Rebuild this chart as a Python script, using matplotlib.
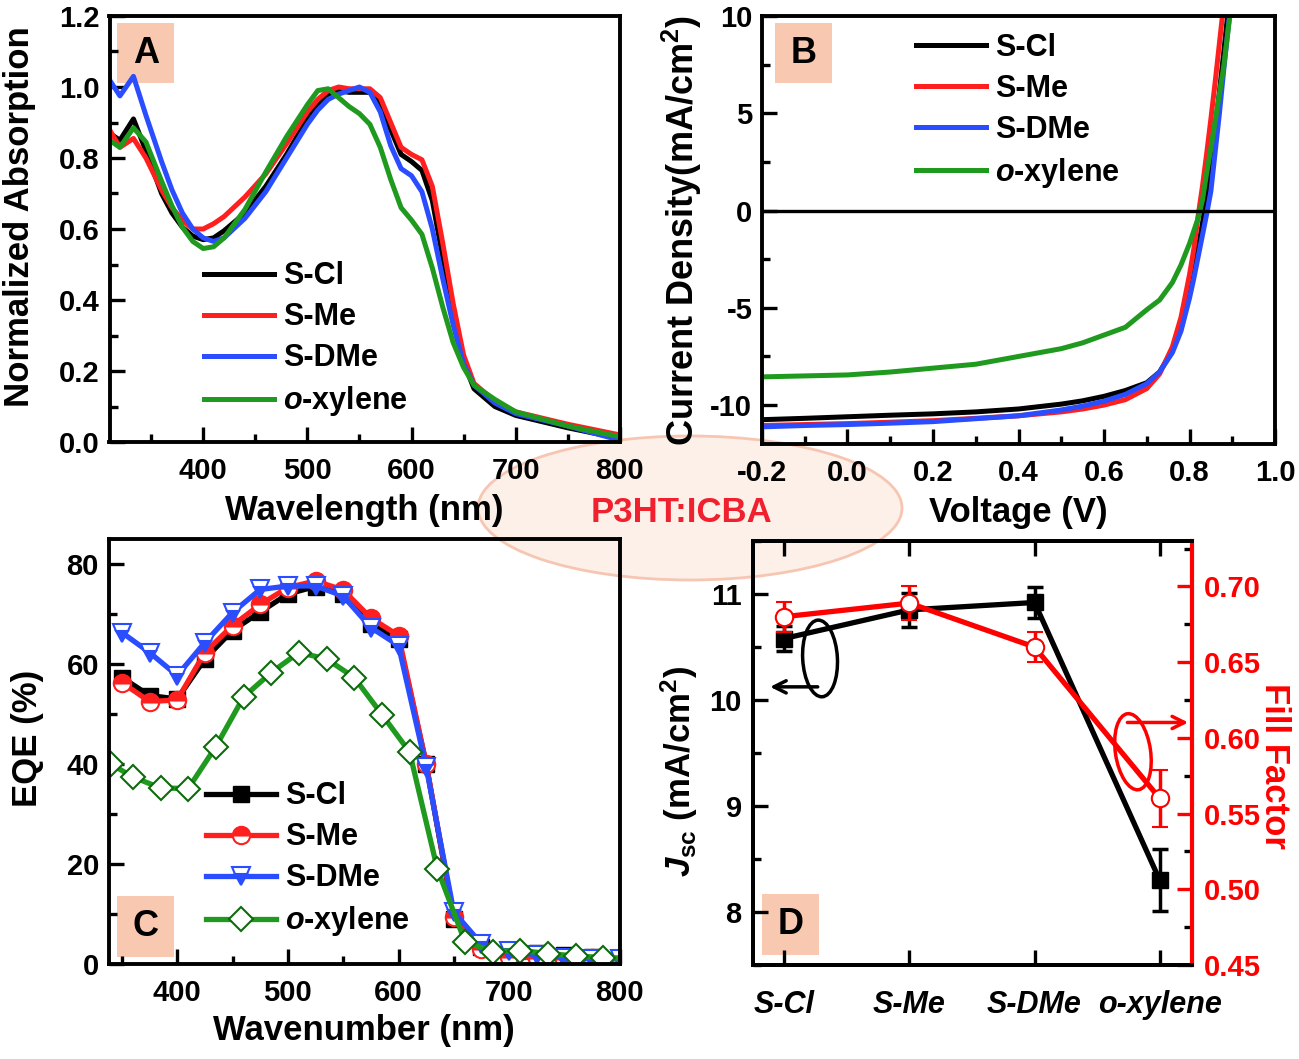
import numpy as np
import matplotlib
matplotlib.use("Agg")
import matplotlib.pyplot as plt
from matplotlib.patches import Ellipse, Rectangle
from matplotlib.ticker import MultipleLocator, FormatStrFormatter

plt.rcParams['font.family'] = ['Liberation Sans', 'DejaVu Sans']
plt.rcParams['font.weight'] = 'bold'
plt.rcParams['axes.labelweight'] = 'bold'
plt.rcParams['mathtext.fontset'] = 'custom'
plt.rcParams['mathtext.rm'] = 'Liberation Sans:bold'
plt.rcParams['mathtext.it'] = 'Liberation Sans:bold:italic'
plt.rcParams['mathtext.bf'] = 'Liberation Sans:bold'
plt.rcParams['axes.unicode_minus'] = False

# ---------------- data ----------------
labels = ['S-Cl', 'S-Me', 'S-DMe', '$o$-xylene']
colors = ['#000000', '#ff1f1f', '#2a4dff', '#1f9a1f']

# (A) normalized absorption
wl_abs = [310, 320, 333, 345, 360, 370, 380, 390, 400, 410, 420, 440, 460, 480,
          500, 510, 520, 530, 540, 550, 560, 570, 580, 590, 600, 610, 620, 630,
          640, 650, 660, 680, 700, 750, 800]
abs_scl = [0.87, 0.85, 0.91, 0.82, 0.70, 0.645, 0.605, 0.58, 0.57, 0.575, 0.595, 0.645, 0.72, 0.81,
           0.91, 0.95, 0.98, 0.99, 0.985, 0.985, 0.985, 0.955, 0.88, 0.81, 0.79, 0.765, 0.68, 0.52,
           0.36, 0.225, 0.15, 0.10, 0.075, 0.04, 0.01]
abs_sme = [0.88, 0.83, 0.855, 0.80, 0.71, 0.66, 0.625, 0.60, 0.60, 0.615, 0.635, 0.69, 0.755, 0.84,
           0.93, 0.965, 0.99, 1.0, 0.995, 0.995, 0.995, 0.97, 0.90, 0.83, 0.81, 0.795, 0.72, 0.56,
           0.39, 0.245, 0.165, 0.115, 0.085, 0.05, 0.02]
abs_sdme = [1.02, 0.975, 1.03, 0.92, 0.79, 0.71, 0.645, 0.60, 0.575, 0.565, 0.575, 0.63, 0.705, 0.80,
            0.895, 0.935, 0.965, 0.98, 0.99, 1.0, 0.985, 0.93, 0.835, 0.77, 0.75, 0.705, 0.60, 0.46,
            0.33, 0.22, 0.16, 0.11, 0.08, 0.045, 0.005]
abs_oxy = [0.85, 0.83, 0.885, 0.845, 0.735, 0.665, 0.605, 0.565, 0.545, 0.55, 0.575, 0.655, 0.76, 0.86,
           0.95, 0.99, 0.995, 0.97, 0.945, 0.925, 0.895, 0.83, 0.74, 0.66, 0.625, 0.585, 0.49, 0.38,
           0.28, 0.21, 0.16, 0.12, 0.085, 0.045, 0.015]

# (B) J-V curves
volt = [-0.2, -0.1, 0.0, 0.1, 0.2, 0.3, 0.4, 0.5, 0.55, 0.6, 0.65, 0.7, 0.73, 0.76,
        0.78, 0.80, 0.81, 0.82, 0.83, 0.84, 0.85, 0.86, 0.87, 0.88, 0.89, 0.90]
j_scl = [-10.75, -10.68, -10.6, -10.52, -10.45, -10.35, -10.2, -9.95, -9.78, -9.55, -9.25, -8.85, -8.3, -7.2,
         -6.1, -4.3, -3.2, -2.0, -0.7, 0.7, 2.4, 4.2, 6.1, 8.1, 10.2, 12.3]
j_sme = [-11.05, -11.0, -10.95, -10.88, -10.8, -10.68, -10.55, -10.35, -10.2, -10.0, -9.72, -9.15, -8.4, -7.0,
         -5.5, -3.3, -2.0, -0.3, 1.2, 2.9, 4.7, 6.6, 8.6, 10.6, 12.6, 14.6]
j_sdme = [-11.12, -11.05, -11.0, -10.93, -10.85, -10.7, -10.55, -10.25, -10.05, -9.8, -9.45, -8.9, -8.3, -7.3,
          -6.2, -4.5, -3.5, -2.4, -1.3, -0.2, 1.0, 3.0, 5.0, 7.2, 9.3, 11.4]
j_oxy = [-8.55, -8.5, -8.45, -8.3, -8.1, -7.9, -7.5, -7.1, -6.8, -6.4, -6.0, -5.1, -4.6, -3.7,
         -2.8, -1.7, -1.05, -0.4, 0.5, 1.9, 3.2, 4.6, 6.0, 7.4, 9.2, 11.0]

# (C) EQE
wl_eqe = [350, 375, 400, 425, 450, 475, 500, 525, 550, 575, 600, 625, 650, 675, 700, 725, 750, 775, 800]
eqe_scl = [57.3, 53.7, 53.0, 61.0, 66.7, 70.4, 74.0, 75.5, 74.0, 68.0, 65.0, 40.0, 9.0, 3.5, 2.8, 2.3, 1.8, 1.5, 1.3]
eqe_sme = [56.3, 52.5, 52.8, 62.3, 67.7, 71.9, 75.3, 76.6, 74.8, 69.2, 65.7, 40.1, 9.4, 3.0, 1.5, 1.2, 1.0, 1.2, 1.2]
eqe_sdme = [66.3, 62.3, 57.7, 64.3, 70.3, 74.9, 75.6, 75.6, 73.6, 67.3, 63.7, 39.4, 10.4, 4.0, 2.6, 1.8, 1.3, 1.0, 1.0]
wl_eqe_oxy = [340, 360, 385, 410, 435, 460, 485, 510, 535, 560, 585, 610, 635, 660, 685, 710, 735, 760, 785, 800]
eqe_oxy = [40.0, 37.4, 35.2, 35.1, 43.5, 53.4, 58.3, 62.3, 61.0, 57.3, 49.9, 42.4, 19.1, 4.5, 2.5, 2.7, 2.1, 1.6, 1.3, 1.2]

# (D) device parameters
solvents = ['S-Cl', 'S-Me', 'S-DMe', 'o-xylene']
jsc = [10.58, 10.85, 10.92, 8.30]
jsc_err = [0.12, 0.16, 0.15, 0.29]
ff = [0.680, 0.689, 0.660, 0.560]
ff_err = [0.010, 0.011, 0.010, 0.019]

# ---------------- figure ----------------
W, H = 1299, 1059
fig = plt.figure(figsize=(W / 100, H / 100), dpi=100)


def add_ax(l, t, r, b):
    return fig.add_axes([l / W, 1 - b / H, (r - l) / W, (b - t) / H])


def style(ax, lw=2.8):
    ax.set_facecolor('none')
    for s in ax.spines.values():
        s.set_linewidth(lw)
    ax.tick_params(which='both', direction='in', width=2.4, labelsize=21, pad=7)
    ax.tick_params(axis='x', pad=11)
    ax.tick_params(which='major', length=11)
    ax.tick_params(which='minor', length=6)


def panel_tag(ax, x0, y0, x1, y1, letter):
    ax.add_patch(Rectangle((x0, y0), x1 - x0, y1 - y0, transform=ax.transAxes,
                           facecolor='#f9c8b0', edgecolor='none', zorder=0.5, clip_on=False))
    ax.text((x0 + x1) / 2, (y0 + y1) / 2, letter, transform=ax.transAxes,
            ha='center', va='center', fontsize=26, fontweight='bold', zorder=5)


leg_kw = dict(loc='upper left', frameon=False, fontsize=22, borderaxespad=0, borderpad=0,
              handlelength=2.3, handletextpad=0.3, labelspacing=0.36)

# central ellipse + label
fig.add_artist(Ellipse((690 / W, 1 - 508 / H), 424 / W, 144 / H, transform=fig.transFigure,
                       facecolor='#fdf0e8', edgecolor='#f6c6b2', lw=2, zorder=-1))
fig.text(681 / W, 1 - 512 / H, 'P3HT:ICBA', color='#f0202e', fontsize=25,
         fontweight='bold', ha='center', va='center')

# ---- A ----
axA = add_ax(109.5, 16, 619.8, 442)
style(axA)
for y, c, lab in zip([abs_scl, abs_sme, abs_sdme, abs_oxy], colors, labels):
    axA.plot(wl_abs, y, color=c, lw=3.6, label=lab)
axA.set_xlim(310, 800)
axA.set_ylim(0, 1.2)
axA.xaxis.set_minor_locator(MultipleLocator(50))
axA.yaxis.set_major_locator(MultipleLocator(0.2))
axA.yaxis.set_minor_locator(MultipleLocator(0.1))
axA.yaxis.set_major_formatter(FormatStrFormatter('%.1f'))
axA.set_xticks([400, 500, 600, 700, 800])
axA.set_xlabel('Wavelength (nm)', fontsize=25)
axA.set_ylabel('Normalized Absorption', fontsize=25)
axA.xaxis.set_label_coords(0.5, -0.122)
axA.yaxis.set_label_coords(-0.145, 0.53)
axA.legend(bbox_to_anchor=(0.185, 0.424), **leg_kw)
panel_tag(axA, 0.0154, 0.842, 0.127, 0.984, 'A')

# ---- B ----
axB = add_ax(762, 16, 1275, 444)
style(axB)
for y, c, lab in zip([j_scl, j_sme, j_sdme, j_oxy], colors, labels):
    axB.plot(volt, y, color=c, lw=3.6, label=lab)
axB.axhline(0, color='k', lw=2.4)
axB.set_xlim(-0.2, 1.0)
axB.set_ylim(-12, 10)
axB.xaxis.set_major_locator(MultipleLocator(0.2))
axB.xaxis.set_minor_locator(MultipleLocator(0.1))
axB.xaxis.set_major_formatter(FormatStrFormatter('%.1f'))
axB.yaxis.set_major_locator(MultipleLocator(5))
axB.yaxis.set_minor_locator(MultipleLocator(2.5))
axB.set_xlabel('Voltage (V)', fontsize=25)
axB.set_ylabel('Current Density(mA/cm$^{2}$)', fontsize=26)
axB.xaxis.set_label_coords(0.5, -0.122)
axB.yaxis.set_label_coords(-0.113, 0.5)
axB.legend(bbox_to_anchor=(0.30, 0.96), **leg_kw)
panel_tag(axB, 0.026, 0.843, 0.137, 0.984, 'B')

# ---- C ----
axC = add_ax(108.6, 539, 619.8, 964)
style(axC)
axC.plot(wl_eqe, eqe_scl, color=colors[0], lw=3.8, marker='s', ms=11, mfc='k', mec='k',
         label=labels[0])
axC.plot(wl_eqe, eqe_sme, color=colors[1], lw=3.8, marker='o', ms=12.5, fillstyle='top',
         mfc=colors[1], mfcalt='white', mec=colors[1], mew=1.5, label=labels[1])
axC.plot(wl_eqe, eqe_sdme, color=colors[2], lw=3.8, marker='v', ms=13.5, fillstyle='bottom',
         mfc=colors[2], mfcalt='white', mec=colors[2], mew=1.5, label=labels[2])
axC.plot(wl_eqe_oxy, eqe_oxy, color=colors[3], lw=3.8, marker='D', ms=12.5, mfc='white',
         mec='#0d6a0d', mew=1.5, markevery=list(range(len(wl_eqe_oxy) - 1)), label=labels[3])
axC.set_xlim(338, 800)
axC.set_ylim(0, 85)
axC.set_xticks([400, 500, 600, 700, 800])
axC.xaxis.set_minor_locator(MultipleLocator(50))
axC.yaxis.set_major_locator(MultipleLocator(20))
axC.yaxis.set_minor_locator(MultipleLocator(10))
axC.set_xlabel('Wavenumber (nm)', fontsize=25)
axC.set_ylabel('EQE (%)', fontsize=25)
axC.xaxis.set_label_coords(0.5, -0.118)
axC.yaxis.set_label_coords(-0.127, 0.53)
axC.legend(bbox_to_anchor=(0.19, 0.43), numpoints=1, **leg_kw)
panel_tag(axC, 0.017, 0.0165, 0.128, 0.159, 'C')

# ---- D ----
axD = add_ax(752.8, 541, 1192.3, 965)
style(axD)
xpos = np.arange(len(solvents))
axD.errorbar(xpos, jsc, yerr=jsc_err, color='k', lw=3.8, marker='s', ms=11,
             capsize=5.5, capthick=2.5, elinewidth=2.5, zorder=3)
axD.set_xlim(-0.25, 3.26)
axD.set_ylim(7.5, 11.5)
axD.set_xticks(xpos)
axD.set_xticklabels(solvents, fontsize=22, style='italic')
axD.yaxis.set_major_locator(MultipleLocator(1))
axD.yaxis.set_minor_locator(MultipleLocator(0.5))
axD.tick_params(axis='x', top=True, pad=18)
axD.tick_params(axis='y', pad=8)
axD.spines['right'].set_visible(False)
axD.set_ylabel(r'$J_{\mathrm{sc}}$ (mA/cm$^{2}$)', fontsize=25)
axD.yaxis.set_label_coords(-0.119, 0.456)

axD2 = axD.twinx()
style(axD2)
axD2.errorbar(xpos, ff, yerr=ff_err, color='#ff0000', lw=3.8, marker='o', ms=12.5,
              mfc='white', mec='#ff0000', mew=1.5, capsize=5.5, capthick=2.5, elinewidth=2.5)
axD2.set_ylim(0.45, 0.73)
axD2.yaxis.set_major_locator(MultipleLocator(0.05))
axD2.yaxis.set_minor_locator(MultipleLocator(0.025))
axD2.yaxis.set_major_formatter(FormatStrFormatter('%.2f'))
axD2.tick_params(axis='y', colors='#ff0000', pad=8)
axD2.spines['right'].set_color('#ff0000')
axD2.spines['right'].set_linewidth(3.0)
axD2.set_ylabel('Fill Factor', fontsize=25, color='#ff0000', rotation=270, va='bottom')
axD2.yaxis.set_label_coords(1.15, 0.47)

# guide ellipses and arrows
axD.add_patch(Ellipse((0.153, 0.723), 0.079, 0.181, angle=3, transform=axD.transAxes,
                      facecolor='none', edgecolor='k', lw=2.5, zorder=4))
axD.annotate('', xy=(0.033, 0.656), xytext=(0.154, 0.656), xycoords='axes fraction',
             arrowprops=dict(arrowstyle='->', color='k', lw=2.5, mutation_scale=22))
axD2.add_patch(Ellipse((0.865, 0.503), 0.080, 0.181, angle=8, transform=axD2.transAxes,
                       facecolor='none', edgecolor='#ff0000', lw=2.5, zorder=4))
axD2.annotate('', xy=(0.997, 0.572), xytext=(0.846, 0.572), xycoords='axes fraction',
              arrowprops=dict(arrowstyle='->', color='#ff0000', lw=2.5, mutation_scale=22))
panel_tag(axD, 0.021, 0.024, 0.150, 0.167, 'D')

fig.savefig('out.png', dpi=100)
